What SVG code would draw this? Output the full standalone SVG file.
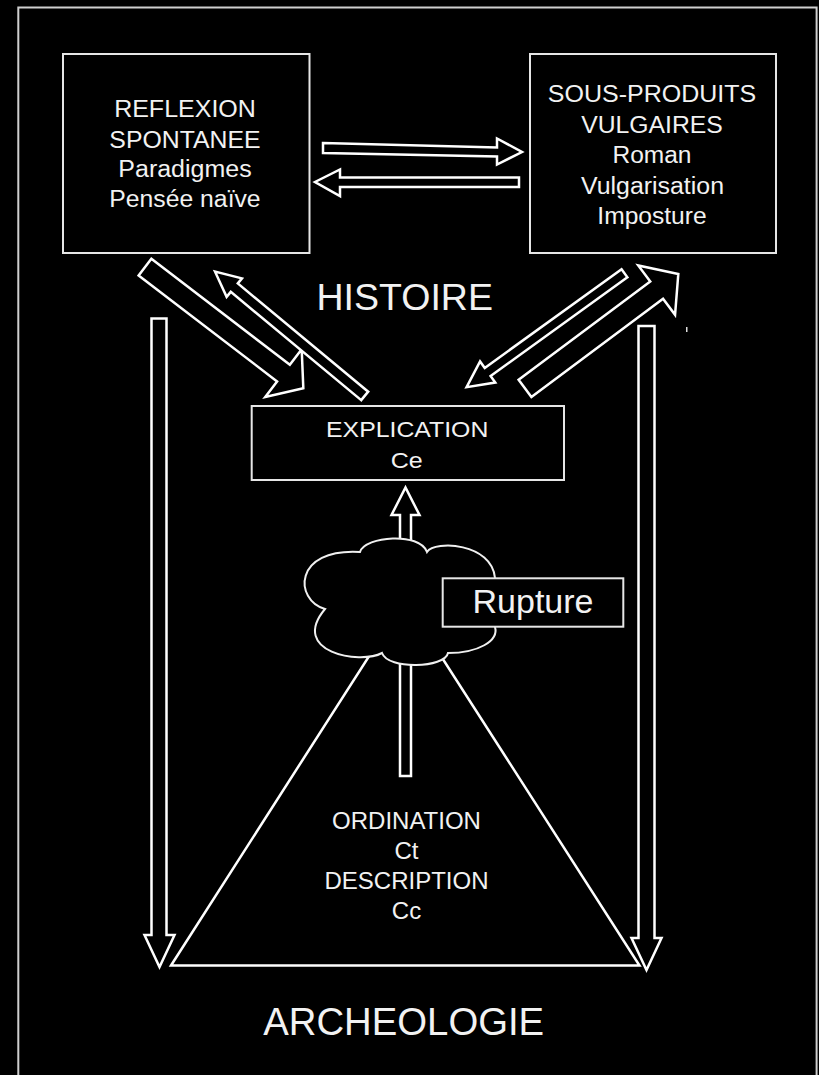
<svg xmlns="http://www.w3.org/2000/svg" width="819" height="1075" viewBox="0 0 819 1075">
<style>
.bg{fill:#000}
.box{fill:#000;stroke:#e6e6e6;stroke-width:2}
.arr{fill:#000;stroke:#fff;stroke-width:2.5;stroke-linejoin:miter}
.ln{fill:none;stroke:#fff;stroke-width:2.5;stroke-linejoin:miter}
.t{fill:#f2f2f2;font-family:"Liberation Sans",Arial,Helvetica,sans-serif;text-anchor:middle}
.bt{font-size:23px}
</style>
<rect class="bg" x="0" y="0" width="819" height="1075"/>
<rect x="18.3" y="7.5" width="798.3" height="1100" fill="none" stroke="#cfcfcf" stroke-width="2"/>

<g id="triangle-ordination">
<polygon class="ln" points="171,965.5 405,600 639.5,965.5"/>
<text class="t" x="406.5" y="829" font-size="24">ORDINATION</text>
<text class="t" x="406.5" y="859" font-size="24">Ct</text>
<text class="t" x="406.5" y="889" font-size="24">DESCRIPTION</text>
<text class="t" x="406.5" y="918.5" font-size="24">Cc</text>
</g>

<g id="connectors">
<polygon class="arr" points="323,143 497,147.5 497,138.5 522,152 497,164.5 497,156.5 323,153"/>
<polygon class="arr" points="519,177.5 340,177.5 340,169.5 315,182 340,196 340,187 519,187"/>
<polygon class="arr" transform="translate(145,267.2) rotate(37.4)" points="0,-10.5 174.3,-10.5 174.3,-30 199.3,0 174.3,30 174.3,10.5 0,10.5"/>
<polygon class="arr" transform="translate(364.7,395.9) rotate(219.7)" points="0,-5.5 169.5,-5.5 169.5,-12 194.5,0 169.5,12 169.5,5.5 0,5.5"/>
<polygon class="arr" transform="translate(624.5,273.3) rotate(144.2)" points="0,-5 168.7,-5 168.7,-13 194.7,0 168.7,13 168.7,5 0,5"/>
<polygon class="arr" transform="translate(525,388.3) rotate(-36.7)" points="0,-10.7 164.2,-10.7 164.2,-30.8 191.2,0 164.2,30.8 164.2,10.7 0,10.7"/>
<polygon class="arr" points="151.5,318.5 166.5,318.5 166.5,935 174.5,935 159.5,967 144.5,935 151.5,935"/>
<polygon class="arr" points="638.5,326 654.5,326 654.5,938 661.5,938 646.5,970 631.5,938 638.5,938"/>
<polygon class="arr" points="400,776 411,776 411,515 419.5,515 405.5,487.5 391.5,515 400,515"/>
</g>

<g id="cloud-rupture">
<path fill="#000" stroke="#f0f0f0" stroke-width="2" d="M360,552 C365,536 420,532 427,552 C435,540 492,543 495,578 C505,590 505,615 495,627 C499,641 478,653 448,653 C445,668 388,670 382,653 C360,665 289,652 325,609 C294,600 293,548 360,552 Z"/>
<rect class="box" x="442.7" y="578.3" width="180.6" height="48.4"/>
<text class="t" x="533" y="613.3" font-size="34">Rupture</text>
</g>

<g id="box-explication">
<rect class="box" x="251.7" y="406" width="312.3" height="74"/>
<text class="t" x="407.2" y="437" font-size="22" textLength="162.3" lengthAdjust="spacingAndGlyphs">EXPLICATION</text>
<text class="t" x="406.7" y="468.3" font-size="22" textLength="32" lengthAdjust="spacingAndGlyphs">Ce</text>
</g>

<g id="box-reflexion">
<rect class="box" x="63" y="54" width="246.5" height="199"/>
<text class="t bt" x="185" y="117" textLength="141.7" lengthAdjust="spacingAndGlyphs">REFLEXION</text>
<text class="t bt" x="185" y="147.5" textLength="151.3" lengthAdjust="spacingAndGlyphs">SPONTANEE</text>
<text class="t bt" x="185" y="177" textLength="133.3" lengthAdjust="spacingAndGlyphs">Paradigmes</text>
<text class="t bt" x="185" y="207" textLength="151.3" lengthAdjust="spacingAndGlyphs">Pensée naïve</text>
</g>

<g id="box-sous-produits">
<rect class="box" x="530" y="54" width="246" height="199"/>
<text class="t bt" x="652" y="102.3" textLength="208.3" lengthAdjust="spacingAndGlyphs">SOUS-PRODUITS</text>
<text class="t bt" x="652" y="132.5" textLength="141.7" lengthAdjust="spacingAndGlyphs">VULGAIRES</text>
<text class="t bt" x="652" y="163" textLength="79" lengthAdjust="spacingAndGlyphs">Roman</text>
<text class="t bt" x="652.5" y="193.5" textLength="143" lengthAdjust="spacingAndGlyphs">Vulgarisation</text>
<text class="t bt" x="652" y="223.5" textLength="109.3" lengthAdjust="spacingAndGlyphs">Imposture</text>
</g>

<g id="label-histoire">
<text class="t" x="404.7" y="310" font-size="37.5">HISTOIRE</text>
</g>
<g id="label-archeologie">
<text class="t" x="403.7" y="1035" font-size="38.3">ARCHEOLOGIE</text>
</g>
<rect x="686" y="327" width="1.5" height="5" fill="#ddd"/>
</svg>
